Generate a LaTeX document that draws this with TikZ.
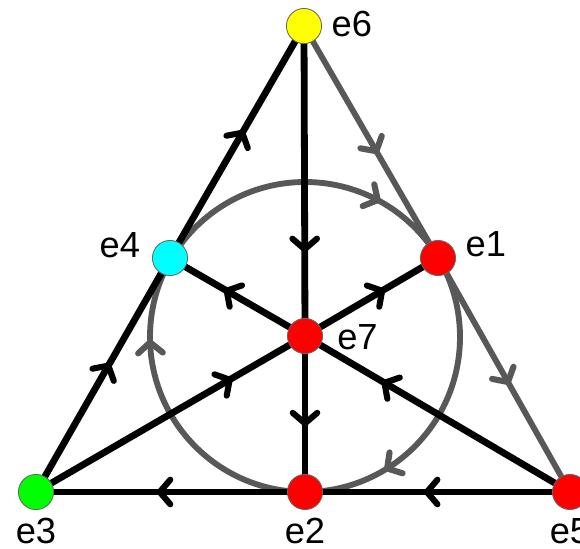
\documentclass[tikz,border=0pt]{standalone}
\usepackage{fontspec}
\setmainfont{Liberation Sans}
\usetikzlibrary{backgrounds}

\definecolor{linegray}{RGB}{88,88,88}
\definecolor{ptyellow}{RGB}{255,255,0}
\definecolor{ptcyan}{RGB}{0,255,255}
\definecolor{ptred}{RGB}{255,0,0}
\definecolor{ptgreen}{RGB}{0,255,0}

\tikzset{
  pt/.style={circle, draw=black!60, line width=0.7pt, fill=#1, minimum size=30pt, inner sep=0pt},
  lbl/.style={font=\fontsize{31}{31}\selectfont, inner sep=3pt},
  chev/.pic={
    \draw[line width=5.2pt, line cap=round, line join=round, pic actions]
      (-9pt,10.5pt) -- (0pt,0pt) -- (-9pt,-10.5pt);
  },
  fano/.style={line width=5.8pt},
  mid/.style={pos=#1, sloped, allow upside down},
}

\begin{document}
\begin{tikzpicture}[x=0.03cm,y=0.03cm]
  \useasboundingbox (0,0) rectangle (580,548);

  % points of the plane
  \node[pt=ptyellow, label={[lbl, label distance=5pt, yshift=2pt]right:e6}] (e6) at (304,522) {};
  \node[pt=ptcyan,   label={[lbl, label distance=7pt, yshift=11pt]left:e4}]  (e4) at (170,290) {};
  \node[pt=ptred,    label={[lbl, label distance=5pt, yshift=12pt]right:e1}] (e1) at (438,290) {};
  \node[pt=ptgreen,  label={[lbl, label distance=4pt]below:e3}] (e3) at (36,56) {};
  \node[pt=ptred,    label={[lbl, label distance=4pt]below:e2}] (e2) at (305,56) {};
  \node[pt=ptred,    label={[lbl, label distance=4pt]below:e5}] (e5) at (570,56) {};
  \node[pt=ptred,    label={[lbl, label distance=9pt, yshift=-1pt]right:e7}] (e7) at (305,212) {};

  \begin{scope}[on background layer]
    % inner circle, clockwise
    \draw[linegray, line width=5pt] (305,211) circle[radius=155];
    \foreach \a in {62,182,302}
      \path[linegray] (305,211) ++(\a:155) pic[rotate=\a-90]{chev};

    % right side
    \draw[fano, linegray, line width=5pt] (e6.center) -- (e1.center) pic[mid=0.54]{chev};
    \draw[fano, linegray, line width=5pt] (e1.center) -- (e5.center) pic[mid=0.53]{chev};

    % left side and base
    \draw[fano] (e3.center) -- (e4.center) pic[mid=0.54]{chev};
    \draw[fano] (e4.center) -- (e6.center) pic[mid=0.54]{chev};
    \draw[fano] (e5.center) -- (e2.center) pic[mid=0.54]{chev};
    \draw[fano] (e2.center) -- (e3.center) pic[mid=0.54]{chev};

    % through the centre
    \draw[fano] (e6.center) -- (e7.center) pic[mid=0.72]{chev};
    \draw[fano] (e7.center) -- (e2.center) pic[mid=0.56]{chev};
    \draw[fano] (e3.center) -- (e7.center) pic[mid=0.72]{chev};
    \draw[fano] (e7.center) -- (e1.center) pic[mid=0.58]{chev};
    \draw[fano] (e5.center) -- (e7.center) pic[mid=0.7]{chev};
    \draw[fano] (e7.center) -- (e4.center) pic[mid=0.58]{chev};
  \end{scope}
\end{tikzpicture}
\end{document}
